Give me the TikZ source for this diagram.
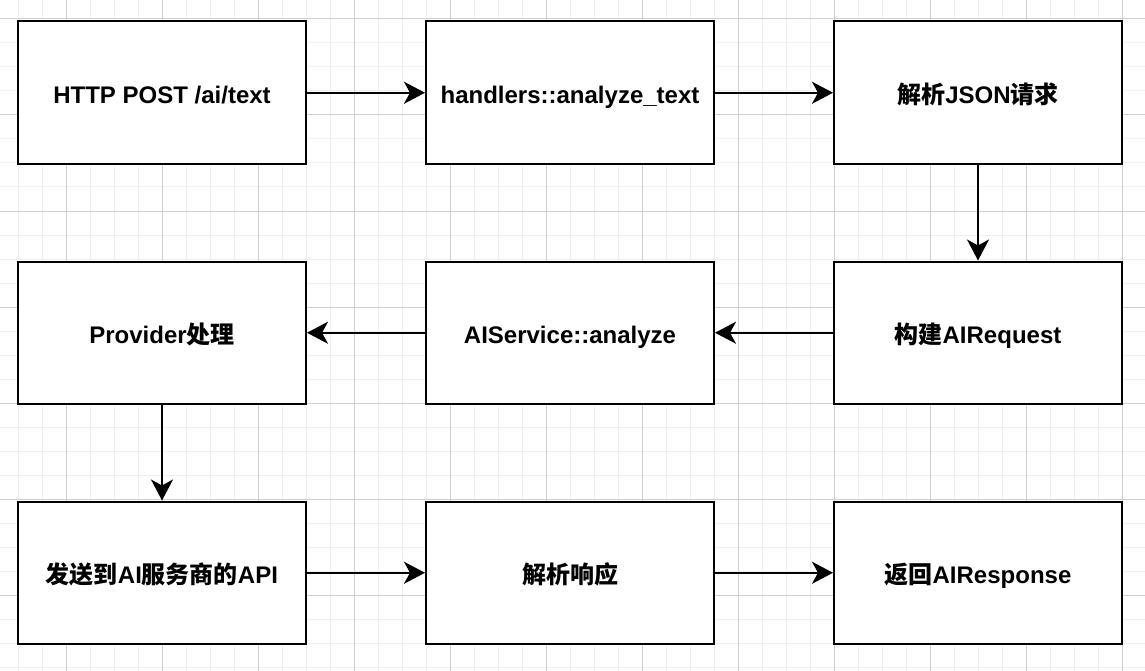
\documentclass[tikz,border=0pt]{standalone}
\usepackage{fontspec}
\setmainfont{Liberation Sans}
\newfontfamily\cjk{Noto Sans CJK SC}
\usetikzlibrary{arrows.meta}
\definecolor{gridminor}{HTML}{F0F0F0}
\definecolor{gridmajor}{HTML}{D0D0D0}
\tikzset{
  stepbox/.style={draw=black, line width=2pt, fill=white, minimum width=288pt, minimum height=142.5pt, inner sep=0pt, text height=21pt, text depth=0pt, font=\fontsize{24pt}{28pt}\selectfont\bfseries, anchor=center},
  flow/.style={draw=black, line width=2pt, -{Stealth[length=21pt, width=22pt, inset=6pt]}}
}
\begin{document}
\begin{tikzpicture}[x=1pt, y=-1pt]
\useasboundingbox (0,0) rectangle (1145,671);
\fill[white] (0,0) rectangle (1145,671);
% minor grid
\foreach \x in {18,42,...,1122} \draw[gridminor, line width=1pt] (\x,0) -- (\x,671);
\foreach \y in {19,43,...,667} \draw[gridminor, line width=1pt] (0,\y) -- (1145,\y);
% major grid
\foreach \x in {66,162,...,1122} \draw[gridmajor, line width=1pt] (\x,0) -- (\x,671);
\foreach \y in {19,115,...,667} \draw[gridmajor, line width=1pt] (0,\y) -- (1145,\y);
% boxes
\node[stepbox] (a) at (162,92.75) {HTTP POST /ai/text};
\node[stepbox] (b) at (570,92.75) {handlers::analyze\_text};
\node[stepbox] (c) at (978,92.75) {{\cjk 解析}JSON{\cjk 请求}};
\node[stepbox] (f) at (978,332.75) {{\cjk 构建}AIRequest};
\node[stepbox] (e) at (570,332.75) {AIService::analyze};
\node[stepbox] (d) at (162,332.75) {Provider{\cjk 处理}};
\node[stepbox] (g) at (162,572.75) {{\cjk 发送到}AI{\cjk 服务商的}API};
\node[stepbox] (h) at (570,572.75) {{\cjk 解析响应}};
\node[stepbox] (i) at (978,572.75) {{\cjk 返回}AIResponse};
% connectors
\draw[flow] (a) -- (b);
\draw[flow] (b) -- (c);
\draw[flow] (c) -- (f);
\draw[flow] (f) -- (e);
\draw[flow] (e) -- (d);
\draw[flow] (d) -- (g);
\draw[flow] (g) -- (h);
\draw[flow] (h) -- (i);
\end{tikzpicture}
\end{document}
